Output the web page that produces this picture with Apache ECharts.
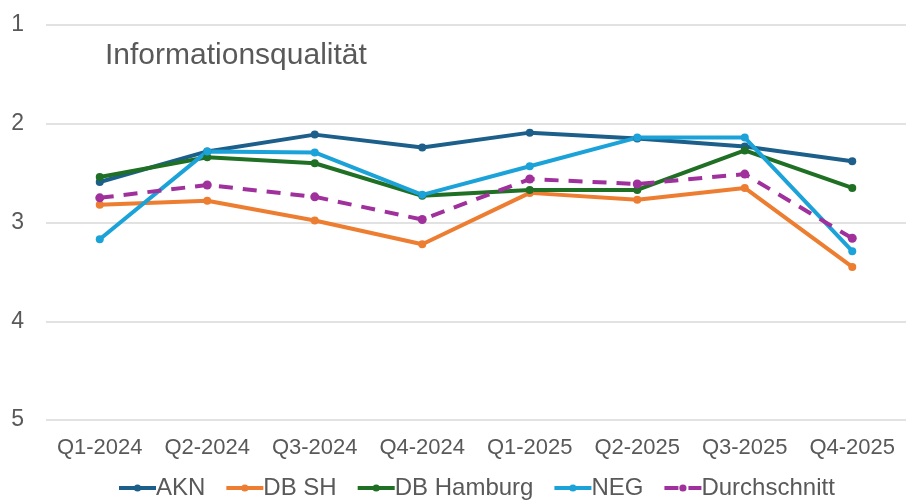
<!DOCTYPE html>
<html>
<head>
<meta charset="utf-8">
<script src="https://cdn.jsdelivr.net/npm/echarts@6/dist/echarts.min.js"></script>
<style>
html, body { margin: 0; padding: 0; background: #fff; }
#chart { width: 906px; height: 501px; }
</style>
</head>
<body>
<div id="chart"></div>
<script>
var quarters = ['Q1-2024', 'Q2-2024', 'Q3-2024', 'Q4-2024', 'Q1-2025', 'Q2-2025', 'Q3-2025', 'Q4-2025'];
var akn = [2.59, 2.28, 2.11, 2.24, 2.09, 2.15, 2.23, 2.38];
var dbSh = [2.82, 2.78, 2.98, 3.22, 2.70, 2.77, 2.65, 3.45];
var dbHamburg = [2.54, 2.34, 2.40, 2.73, 2.67, 2.67, 2.27, 2.65];
var neg = [3.17, 2.28, 2.29, 2.72, 2.43, 2.14, 2.14, 3.29];
var schnitt = [2.75, 2.62, 2.74, 2.97, 2.56, 2.61, 2.51, 3.16];

var font = 'Liberation Sans, Arial, sans-serif';
var grey = '#595959';

function line(name, data, color, dashed) {
    return {
        name: name,
        type: 'line',
        data: data,
        symbol: 'circle',
        symbolSize: dashed ? 9 : 8,
        lineStyle: { width: 4, color: color, type: dashed ? [14, 10] : 'solid' },
        itemStyle: { color: color },
        emphasis: { disabled: true }
    };
}

var option = {
    animation: false,
    title: {
        text: 'Informationsqualität',
        left: 100,
        top: 36,
        textStyle: { color: grey, fontSize: 30, fontWeight: 'normal', fontFamily: font }
    },
    grid: { left: 46, right: 0, top: 25, bottom: 81 },
    legend: {
        bottom: -4,
        left: 112,
        itemWidth: 37,
        itemHeight: 9,
        itemGap: 19,
        lineStyle: { width: 4 },
        textStyle: { color: grey, fontSize: 24, fontFamily: font, padding: [0, 0, 0, -5] },
        data: ['AKN', 'DB SH', 'DB Hamburg', 'NEG', 'Durchschnitt']
    },
    xAxis: {
        type: 'category',
        data: quarters,
        axisLine: { show: false },
        axisTick: { show: false },
        axisLabel: { color: grey, fontSize: 22, fontFamily: font, margin: 17, interval: 0 }
    },
    yAxis: {
        type: 'value',
        inverse: true,
        min: 1,
        max: 5,
        interval: 1,
        axisLine: { show: false },
        axisTick: { show: false },
        axisLabel: { color: grey, fontSize: 23, fontFamily: font, margin: 22 },
        splitLine: { lineStyle: { color: '#d9d9d9', width: 1.5 } }
    },
    series: [
        line('AKN', akn, '#1c5f8a'),
        line('DB SH', dbSh, '#ed7d31'),
        line('DB Hamburg', dbHamburg, '#1f6f24'),
        line('NEG', neg, '#1ba3d9'),
        line('Durchschnitt', schnitt, '#a0309c', true)
    ]
};

var chart = echarts.init(document.getElementById('chart'));
chart.setOption(option);
</script>
</body>
</html>
